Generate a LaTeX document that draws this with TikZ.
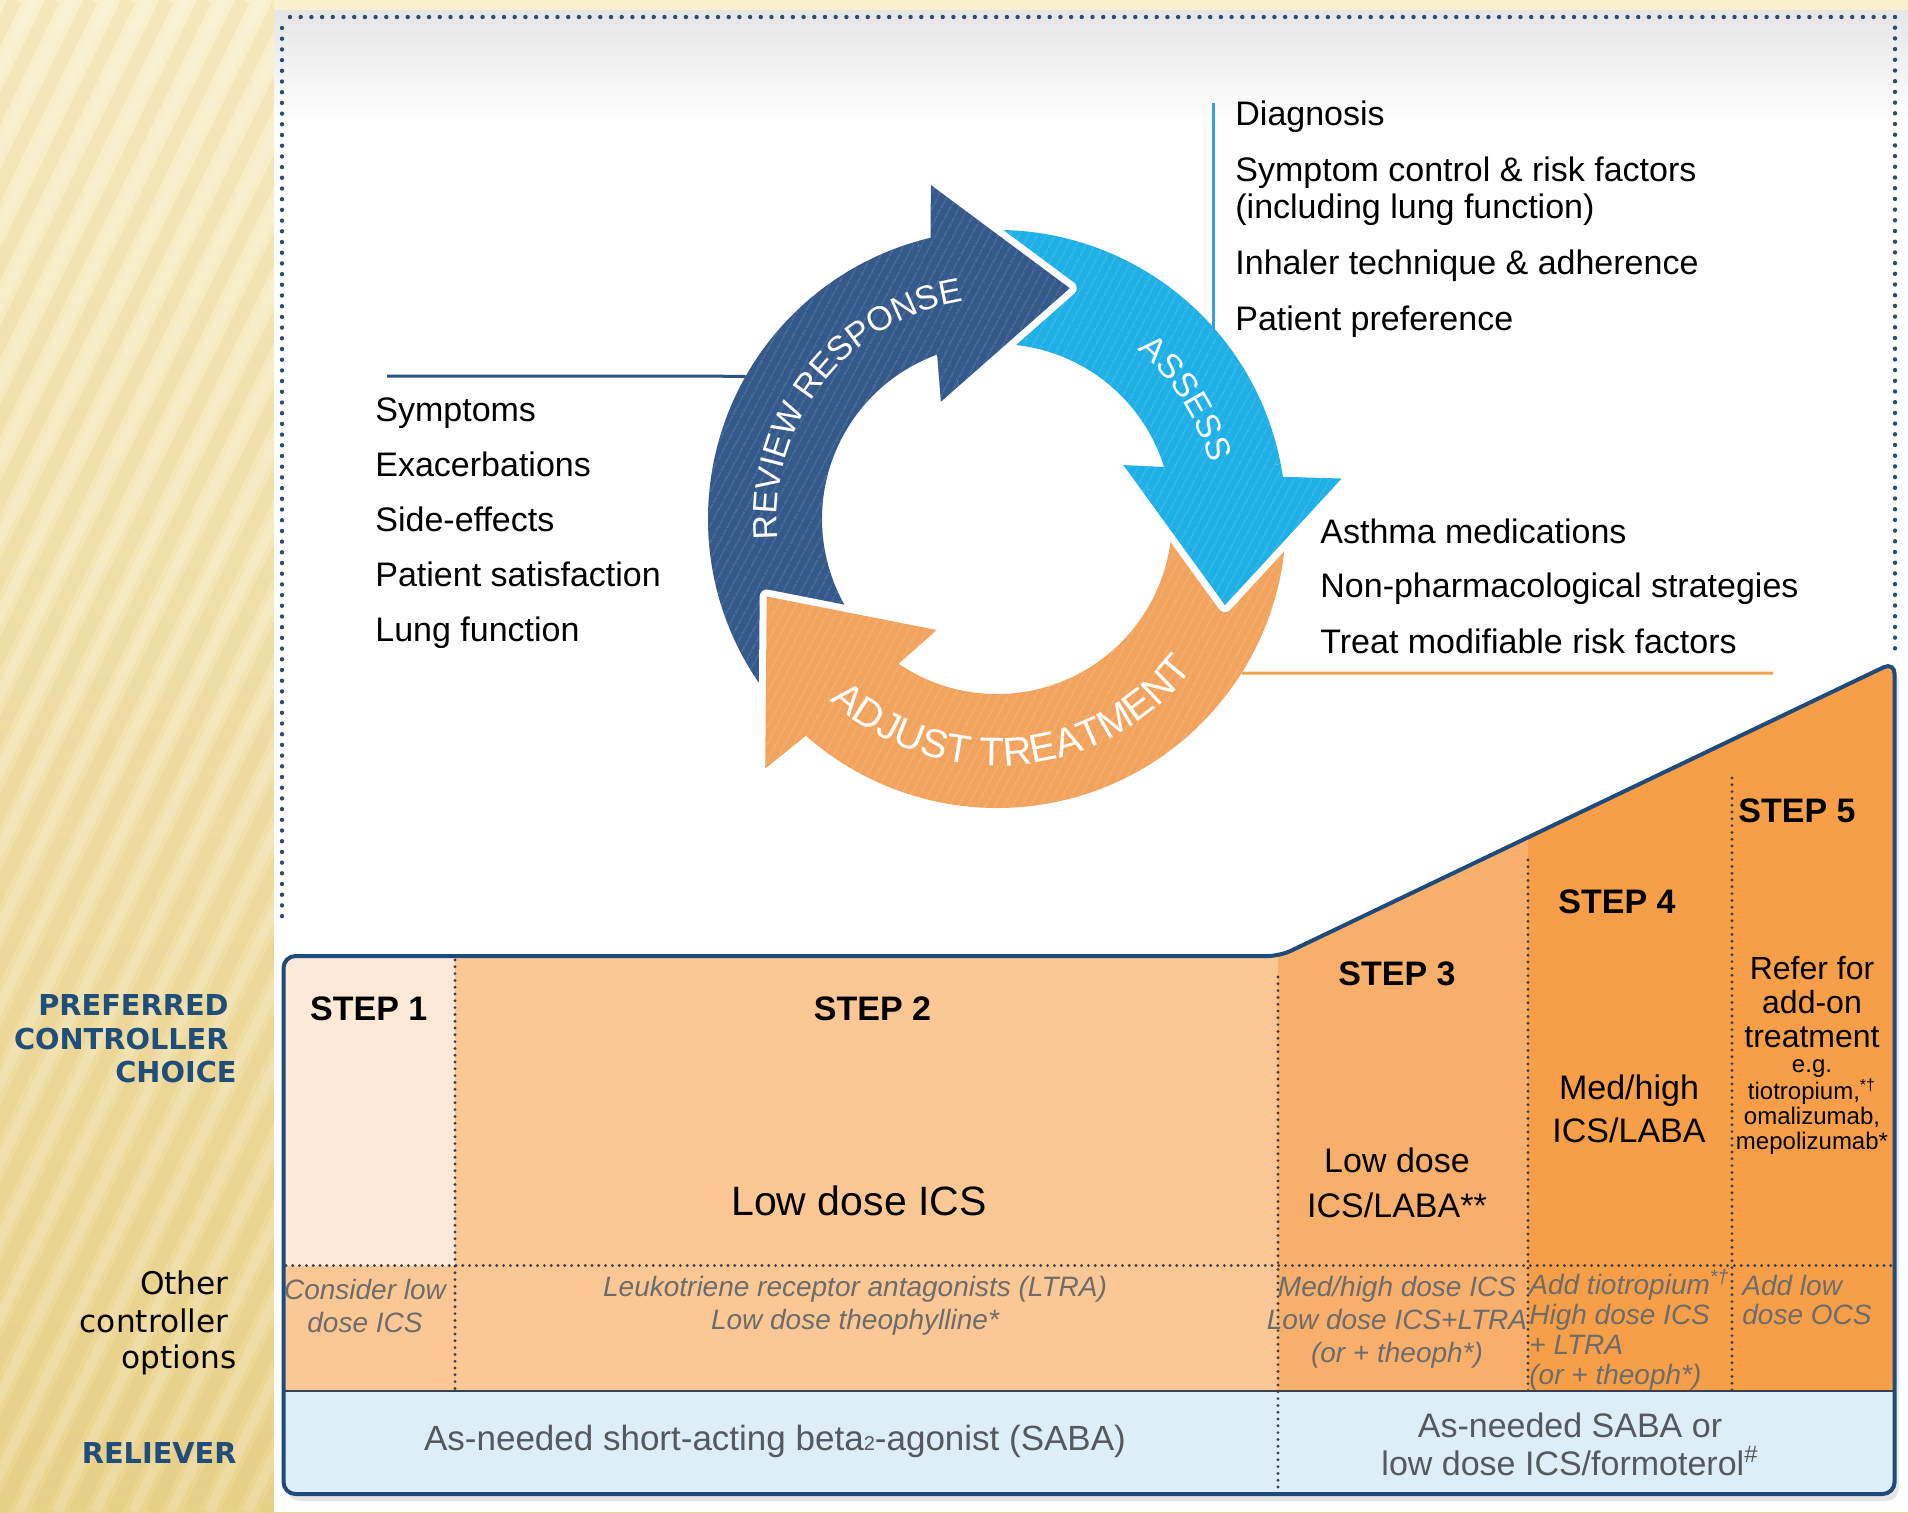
\documentclass[tikz,border=0pt]{standalone}
\usepackage{fontspec}
\setmainfont{Liberation Sans}
\newfontfamily\dejavu{DejaVu Sans}
\usetikzlibrary{patterns.meta,decorations.text}

\definecolor{panelTop}{HTML}{FAF0CD}
\definecolor{panelBot}{HTML}{EBD48F}
\definecolor{stripeC}{HTML}{D8BC68}
\definecolor{frameBlue}{HTML}{1E4B7B}
\definecolor{dotBlue}{HTML}{2E4B72}
\definecolor{labelBlue}{HTML}{1F4E7A}
\definecolor{reviewBlue}{HTML}{34598A}
\definecolor{assessCyan}{HTML}{1EB0E6}
\definecolor{adjustOrange}{HTML}{F2A45E}
\definecolor{assessLine}{HTML}{3A9FD2}
\definecolor{reviewLine}{HTML}{2C5283}
\definecolor{adjustLine}{HTML}{F0A152}
\definecolor{stepOne}{HTML}{FDE9D8}
\definecolor{stepTwo}{HTML}{FBC794}
\definecolor{stepThree}{HTML}{F8AF6C}
\definecolor{stepFour}{HTML}{F69F48}
\definecolor{relieverBlue}{HTML}{DDEEF9}
\definecolor{optGrey}{HTML}{6C6C6C}
\definecolor{relGrey}{HTML}{54595F}
\definecolor{sepGrey}{HTML}{3A414C}

% one curved arrow of the cycle: white halo, flat fill, fine stripes
\newcommand\ringarrow[2]{%
  \path[draw=white,line width=7pt,line join=round] #2;
  \fill[#1] #2;
  \fill[pattern={Lines[angle=62,distance=4pt,line width=0.7pt]},pattern color=white,fill opacity=0.16] #2;
}
\newcommand\reviewpath{(220:289) arc[start angle=220,end angle=103.3,radius=289] -- (101.2:340.5) -- (72.5:242) -- (115.6:130) -- (110:175) arc[start angle=110,end angle=220,radius=175] -- cycle}
\newcommand\assesspath{(95:289) arc[start angle=95,end angle=8.4,radius=289] -- (6.7:347) -- (-20.7:243.7) -- (23.1:137.4) -- (17.3:175) arc[start angle=17.3,end angle=95,radius=175] -- cycle}
\newcommand\adjustpath{(5:289) arc[start angle=5,end angle=-131.4,radius=289] -- (-132.9:340.5) -- (-161.4:243) -- (-118.5:126.3) -- (-124.2:175) arc[start angle=-124.2,end angle=5,radius=175] -- cycle}

\begin{document}
\begin{tikzpicture}[x=0.5pt,y=-0.5pt,
  listtext/.style={anchor=base west,inner sep=0pt,font=\fontsize{17}{20}\selectfont},
  steplabel/.style={inner sep=0pt,font=\bfseries\fontsize{17}{20}\selectfont},
  cellmain/.style={inner sep=0pt,align=center,font=\fontsize{17}{22.5}\selectfont},
  opttext/.style={inner sep=0pt,align=center,text=optGrey,font=\itshape\fontsize{14}{16.5}\selectfont},
  rowlabel/.style={anchor=base east,inner sep=0pt,text=labelBlue,font=\dejavu\bfseries\fontsize{14.4}{16}\selectfont},
  rowlabelplain/.style={anchor=base east,inner sep=0pt,font=\dejavu\fontsize{15.6}{18}\selectfont},
  bluedots/.style={dotBlue,line width=2.2pt,line cap=round,dash pattern=on 0pt off 5.35pt},
  celldots/.style={sepGrey,line width=1.6pt,line cap=round,dash pattern=on 0pt off 3.4pt},
]
\useasboundingbox (0,0) rectangle (1908,1512);

% ---- background: striped golden panel and white sheet
\shade[top color=panelTop,bottom color=panelBot] (0,0) rectangle (1908,1512);
\begin{scope}
  \clip (0,0) rectangle (274,1512);
  \foreach \k in {-760,-722,...,300}
    \draw[stripeC,line width=7pt,opacity=0.16] (\k,1512) -- ++(737,-1512);
  \foreach \k in {-741,-703,...,317}
    \draw[white,line width=5pt,opacity=0.16] (\k,1512) -- ++(737,-1512);
\end{scope}
\fill[white] (274,10) rectangle (1908,1512);
\shade[top color=black!10,bottom color=white] (274,10) rectangle (1908,125);

% ---- dotted frame round the cycle
\draw[bluedots] (282,28) -- (282,925);
\draw[bluedots] (290,17) -- (1895,17) -- (1895,650);

% ---- the three-arrow cycle
\begin{scope}[shift={(997,519)},yscale=-1]
  \coordinate (ringC) at (0,0);
  \ringarrow{reviewBlue}{\reviewpath}
  \ringarrow{assessCyan}{\assesspath}
  \ringarrow{adjustOrange}{\adjustpath}
  \begin{scope}
    \clip (106:90) -- (106:385) -- (83:385) -- (60:385) -- (60:90) -- cycle;
    \ringarrow{reviewBlue}{\reviewpath}
  \end{scope}
  \begin{scope}
    \clip (11:90) -- (11:385) -- (-12:385) -- (-35:385) -- (-35:90) -- cycle;
    \ringarrow{assessCyan}{\assesspath}
  \end{scope}
  \path[decorate,decoration={text along path,text align=center,text color=white,
    text={|\fontsize{17}{17}\selectfont|REVIEW RESPONSE}}]
    (192:220) arc[start angle=192,end angle=92,radius=220];
  \path[decorate,decoration={text along path,text align=center,text color=white,
    text={|\fontsize{17}{17}\selectfont|ASSESS}}]
    (62:220) arc[start angle=62,end angle=3,radius=220];
  \path[decorate,decoration={text along path,text align=center,text color=white,
    text={|\fontsize{20}{20}\selectfont|ADJUST TREATMENT}}]
    (220:247) arc[start angle=220,end angle=330,radius=247];
  \coordinate (reviewEdge) at (150.4:289);
  \coordinate (adjustEdge) at (-32.2:289);
\end{scope}

% ---- assess list
\coordinate (assessTop) at (1213,103);
\coordinate (assessBot) at (1213,329);
\draw[assessLine,line width=1.5pt] (assessTop) -- (assessBot);
\node[listtext] (as1) at (1235,125) {Diagnosis};
\node[listtext] (as2) at (1235,181) {Symptom control \& risk factors};
\node[listtext] (as3) at (1235,218) {(including lung function)};
\node[listtext] (as4) at (1235,274) {Inhaler technique \& adherence};
\node[listtext] (as5) at (1235,330) {Patient preference};

% ---- review list
\coordinate (reviewStart) at (387,376);
\draw[reviewLine,line width=1.5pt] (reviewStart) -- (reviewEdge);
\node[listtext] (rv1) at (375,421) {Symptoms};
\node[listtext] (rv2) at (375,476) {Exacerbations};
\node[listtext] (rv3) at (375,531) {Side-effects};
\node[listtext] (rv4) at (375,586) {Patient satisfaction};
\node[listtext] (rv5) at (375,641) {Lung function};

% ---- adjust list
\coordinate (adjustEnd) at (1773,673);
\draw[adjustLine,line width=1.5pt] (adjustEdge) -- (adjustEnd);
\node[listtext] (ad1) at (1320,543) {Asthma medications};
\node[listtext] (ad2) at (1320,597) {Non-pharmacological strategies};
\node[listtext] (ad3) at (1320,653) {Treat modifiable risk factors};

% ---- stepwise table
\fill[black,opacity=0.10,rounded corners=6pt,shift={(4,7)}]
  (283.5,1494) -- (283.5,956) -- (1280,956) -- (1894.6,662) -- (1894.6,1494) -- cycle;
\begin{scope}
  \clip[rounded corners=6pt] (283.5,1494) -- (283.5,956) -- (1280,956) -- (1894.6,662) -- (1894.6,1494) -- cycle;
  \fill[stepOne] (280,600) rectangle (455,1265.5);
  \fill[stepTwo] (455,600) rectangle (1278,1265.5);
  \fill[stepTwo] (280,1265.5) rectangle (1278,1391);
  \fill[stepThree] (1278,600) rectangle (1528,1391);
  \fill[stepFour] (1528,600) rectangle (1900,1391);
  \fill[relieverBlue] (280,1391) rectangle (1900,1500);
\end{scope}
\draw[celldots] (455,960) -- (455,1391);
\draw[celldots] (1278,977) -- (1278,1492);
\draw[celldots] (1528,860) -- (1528,1391);
\draw[celldots] (1732,778) -- (1732,1391);
\draw[celldots] (286,1265.5) -- (1892,1265.5);
\draw[sepGrey,line width=1pt] (283.5,1391) -- (1894.6,1391);
\draw[frameBlue,line width=2pt,rounded corners=6pt]
  (283.5,1494) -- (283.5,956) -- (1280,956) -- (1894.6,662) -- (1894.6,1494) -- cycle;

% step headings
\node[steplabel] (s1) at (368.7,1008.7) {STEP 1};
\node[steplabel] (s2) at (872.5,1008.7) {STEP 2};
\node[steplabel] (s3) at (1397,973.4) {STEP 3};
\node[steplabel] (s4) at (1617,901.6) {STEP 4};
\node[steplabel] (s5) at (1797,810.4) {STEP 5};

% preferred controller
\node[inner sep=0pt,font=\fontsize{20.5}{24}\selectfont] (p2) at (859,1201) {Low dose ICS};
\node[cellmain] (p3) at (1397,1183) {Low dose\\ICS/LABA**};
\node[cellmain,font=\fontsize{17}{21.3}\selectfont] (p4) at (1629,1109) {Med/high\\ICS/LABA};
\node[cellmain,font=\fontsize{16}{17}\selectfont] (p5a) at (1812,1002) {Refer for\\add-on\\treatment};
\node[cellmain,font=\fontsize{12}{12.6}\selectfont] (p5b) at (1812,1107)
  {e.g.\\tiotropium,\textsuperscript{*†}\\omalizumab,\\mepolizumab*};

% other controller options
\node[opttext] (o1) at (365,1306) {Consider low\\dose ICS};
\node[opttext] (o2) at (855,1306) {Leukotriene receptor antagonists (LTRA)\\Low dose theophylline*};
\node[opttext] (o3) at (1397,1322.7) {Med/high dose ICS\\Low dose ICS+LTRA\\(or + theoph*)};
\node[opttext,align=left,anchor=west,font=\itshape\fontsize{14}{15}\selectfont] (o4) at (1529,1330)
  {Add tiotropium\textsuperscript{*†}\\High dose ICS\\+ LTRA\\(or + theoph*)};
\node[opttext,align=left,anchor=west,font=\itshape\fontsize{14}{14.5}\selectfont] (o5) at (1742,1299.5)
  {Add low\\dose OCS};

% relievers
\node[inner sep=0pt,text=relGrey,font=\fontsize{17.5}{20}\selectfont] (r1) at (775,1441)
  {As-needed short-acting beta{\fontsize{10}{10}\selectfont 2}-agonist (SABA)};
\node[inner sep=0pt,align=center,text=relGrey,font=\fontsize{17}{19}\selectfont] (r2) at (1570,1444)
  {As-needed SABA or\\low dose ICS/formoterol\textsuperscript{\#}};

% row labels
\node[rowlabel] (lp1) at (229,1015.4) {PREFERRED};
\node[rowlabel] (lp2) at (229,1049.5) {CONTROLLER};
\node[rowlabel] (lp3) at (237,1082.3) {CHOICE};
\node[rowlabelplain] (lo1) at (229,1294.7) {Other};
\node[rowlabelplain] (lo2) at (229,1332) {controller};
\node[rowlabelplain] (lo3) at (237,1368) {options};
\node[rowlabel] (lr) at (237,1463.2) {RELIEVER};
\end{tikzpicture}
\end{document}
